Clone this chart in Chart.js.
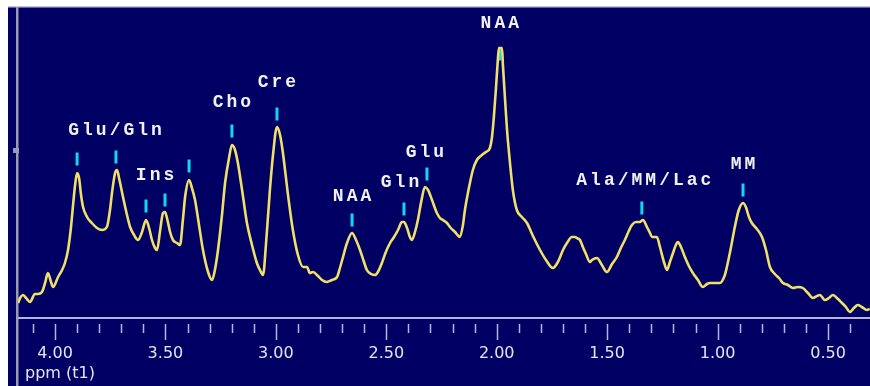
<!DOCTYPE html>
<html>
<head>
<meta charset="utf-8">
<script src="https://cdn.jsdelivr.net/npm/chart.js@4/dist/chart.umd.min.js"></script>
<style>
  html, body { margin: 0; padding: 0; background: #ffffff; }
  canvas { display: block; }
</style>
</head>
<body>
<canvas id="spec" width="870" height="386"></canvas>
<script>
// Chemical shift (ppm) and signal intensity (a.u.) of the 1H MR spectrum
const ppm = [
  4.167,4.158,4.145,4.127,4.113,4.091,4.077,4.059,4.045,4.032,
  4.018,4.009,3.986,3.968,3.955,3.941,3.928,3.919,3.909,3.900,
  3.891,3.882,3.873,3.855,3.833,3.810,3.787,3.765,3.751,3.742,
  3.728,3.719,3.710,3.692,3.674,3.660,3.642,3.624,3.606,3.588,
  3.574,3.561,3.547,3.538,3.525,3.511,3.502,3.493,3.479,3.466,
  3.448,3.434,3.421,3.411,3.393,3.380,3.366,3.348,3.330,3.307,
  3.289,3.276,3.262,3.244,3.230,3.212,3.199,3.185,3.172,3.153,
  3.131,3.108,3.086,3.072,3.058,3.045,3.027,3.013,2.995,2.981,
  2.968,2.945,2.923,2.900,2.877,2.859,2.846,2.832,2.809,2.791,
  2.769,2.746,2.723,2.710,2.696,2.678,2.655,2.637,2.619,2.601,
  2.588,2.569,2.551,2.538,2.520,2.502,2.483,2.465,2.447,2.429,
  2.420,2.406,2.393,2.384,2.370,2.357,2.343,2.325,2.311,2.293,
  2.280,2.271,2.257,2.244,2.225,2.212,2.189,2.167,2.153,2.144,
  2.126,2.108,2.090,2.067,2.049,2.031,2.022,2.013,2.004,1.995,
  1.990,1.976,1.972,1.963,1.954,1.940,1.927,1.909,1.886,1.863,
  1.836,1.804,1.777,1.746,1.723,1.700,1.682,1.660,1.646,1.637,
  1.623,1.610,1.596,1.578,1.569,1.546,1.524,1.501,1.478,1.456,
  1.438,1.420,1.402,1.388,1.370,1.352,1.338,1.320,1.306,1.297,
  1.275,1.261,1.243,1.229,1.216,1.202,1.189,1.180,1.166,1.148,
  1.130,1.112,1.089,1.067,1.048,1.035,1.012,0.990,0.967,0.958,
  0.940,0.922,0.904,0.885,0.872,0.858,0.845,0.822,0.799,0.781,
  0.763,0.741,0.722,0.704,0.682,0.659,0.636,0.614,0.591,0.569,
  0.550,0.537,0.514,0.496,0.478,0.455,0.437,0.419,0.401,0.383,
  0.365,0.347,0.324,0.311
];
const intensity = [
  14,19,22,18,15,23,23,25,34,44,
  35,30,40,47,54,67,89,110,132,144,
  139,122,110,100,94,89,87,90,107,124,
  144,147,139,120,102,90,82,77,85,97,
  89,77,69,67,85,104,105,99,85,77,
  74,72,97,120,137,129,117,92,67,45,
  37,47,67,102,134,159,172,167,154,127,
  94,72,54,47,42,72,127,162,190,182,
  164,122,87,62,50,50,44,45,41,37,
  35,37,40,49,60,74,84,77,67,55,
  47,43,42,45,54,65,74,80,87,95,
  95,89,80,77,85,97,114,130,127,117,
  109,104,99,97,94,90,85,80,92,107,
  129,147,157,162,165,169,179,200,227,257,
  269,269,252,220,189,154,127,107,100,94,
  81,67,57,49,55,67,74,80,80,79,
  77,70,63,55,57,59,52,45,53,60,
  69,77,86,92,95,95,97,90,84,80,
  80,70,55,47,55,64,72,75,70,60,
  51,44,37,30,33,34,34,34,42,50,
  69,90,107,114,110,100,94,88,80,67,
  50,43,39,34,32,29,30,29,24,19,
  21,22,17,19,22,18,14,10,5,9,
  12,10,7,8
];

// Peak assignment markers: position (ppm) and marker level (a.u.)
const markerPpm   = [3.900, 3.724, 3.588, 3.502, 3.393, 3.199, 2.995, 2.655, 2.420, 2.316, 1.986, 1.343, 0.885];
const markerLevel = [158,   160,   111,   117,   151,   186,   203,   97,    108,   143,   263,   109,   127];

// Metabolite names and where they are written
const labelText  = ['Glu/Gln', 'Ins', 'Cho', 'Cre', 'NAA', 'Gln', 'Glu', 'NAA', 'Ala/MM/Lac', 'MM'];
const labelPpm   = [3.728, 3.547, 3.199, 2.995, 2.655, 2.438, 2.325, 1.986, 1.334, 0.885];
const labelLevel = [187,   142,   215,   235,   121,   135,   165,   294,   137,   153];

// Chemical shift axis
const axisLabelPpm = [4.0, 3.5, 3.0, 2.5, 2.0, 1.5, 1.0, 0.5];
const axisLabels   = ['4.00', '3.50', '3.00', '2.50', '2.00', '1.50', '1.00', '0.50'];
const minorTickPpm = [4.1, 4.0, 3.9, 3.8, 3.7, 3.6, 3.5, 3.4, 3.3, 3.2, 3.1, 3.0, 2.9, 2.8, 2.7, 2.6,
                      2.5, 2.4, 2.3, 2.2, 2.1, 2.0, 1.9, 1.8, 1.7, 1.6, 1.5, 1.4, 1.3, 1.2, 1.1, 1.0,
                      0.9, 0.8, 0.7, 0.6, 0.5, 0.4];
const axisTitle = 'ppm (t1)';

const NAVY = 'rgb(0,0,100)';
const AXIS = '#b4b4e0';

const frame = {
  id: 'frame',
  beforeDraw(chart) {
    const { ctx, width, height } = chart;
    ctx.save();
    ctx.fillStyle = '#ffffff';
    ctx.fillRect(0, 0, width, height);
    ctx.fillStyle = NAVY;
    ctx.fillRect(8, 7, width - 8, height - 7);
    // top border
    ctx.fillStyle = '#c4c4dc';
    ctx.fillRect(8, 6, width - 8, 1.5);
    // left vertical rule and its knob
    ctx.fillStyle = '#9a9ab0';
    ctx.fillRect(16, 7, 2.5, height - 7);
    ctx.fillRect(13, 148, 6, 5);
    ctx.restore();
  },
  afterDraw(chart) {
    const { ctx, chartArea } = chart;
    const xs = chart.scales.x;
    const ys = chart.scales.y;
    const base = chartArea.bottom;
    ctx.save();

    // baseline of the ppm axis
    ctx.fillStyle = AXIS;
    ctx.fillRect(chartArea.left, base, chartArea.right - chartArea.left, 2);

    // tick marks
    ctx.strokeStyle = AXIS;
    ctx.lineWidth = 1.5;
    minorTickPpm.forEach(v => {
      const px = Math.round(xs.getPixelForValue(v)) + 0.5;
      const major = Math.abs(v * 2 - Math.round(v * 2)) < 1e-6;
      ctx.beginPath();
      ctx.moveTo(px, base + 7);
      ctx.lineTo(px, base + (major ? 23 : 16));
      ctx.stroke();
    });

    // tick labels
    ctx.fillStyle = '#e4e4f4';
    ctx.font = '16px "DejaVu Sans"';
    ctx.textAlign = 'center';
    ctx.textBaseline = 'middle';
    axisLabelPpm.forEach((v, i) => {
      ctx.fillText(axisLabels[i], xs.getPixelForValue(v), base + 37);
    });
    ctx.textAlign = 'left';
    ctx.fillText(axisTitle, 25, base + 57);

    // metabolite labels
    ctx.fillStyle = '#f2f2f6';
    ctx.font = 'bold 18px "Liberation Mono"';
    ctx.letterSpacing = '3px';
    ctx.textAlign = 'center';
    labelText.forEach((t, i) => {
      ctx.fillText(t, xs.getPixelForValue(labelPpm[i]) + 1.5, ys.getPixelForValue(labelLevel[i]));
    });
    ctx.restore();
  }
};

new Chart(document.getElementById('spec'), {
  type: 'line',
  data: {
    datasets: [
      {
        label: 'Spectrum',
        data: ppm.map((p, i) => ({ x: p, y: intensity[i] })),
        borderColor: '#f0e068',
        borderWidth: 2.6,
        pointRadius: 0,
        cubicInterpolationMode: 'monotone',
        fill: false
      },
      {
        label: 'Assignments',
        type: 'scatter',
        data: markerPpm.map((p, i) => ({ x: p, y: markerLevel[i] })),
        pointStyle: 'line',
        rotation: 90,
        pointRadius: 6.5,
        borderWidth: 3,
        borderColor: '#10d8f0',
        backgroundColor: '#10d8f0'
      }
    ]
  },
  options: {
    responsive: false,
    animation: false,
    events: [],
    layout: { autoPadding: false, padding: { left: 18, right: 0, top: 7, bottom: 69 } },
    plugins: { legend: { display: false }, tooltip: { enabled: false } },
    scales: {
      x: { type: 'linear', reverse: true, min: 0.31, max: 4.1675, display: false },
      y: { type: 'linear', min: 0, max: 310, display: false }
    }
  },
  plugins: [frame]
});
</script>
</body>
</html>
